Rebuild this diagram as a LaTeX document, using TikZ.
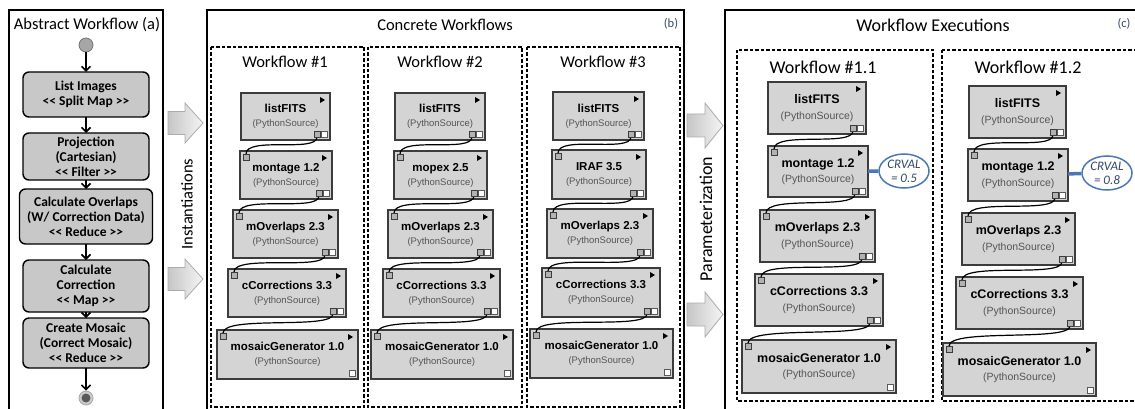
\documentclass[tikz,border=0pt]{standalone}
\usepackage{fontspec}
\setmainfont{Carlito}
\newfontfamily\arialf{Liberation Sans}
\usetikzlibrary{arrows.meta,shapes.geometric,calc}

\definecolor{boxgray}{HTML}{C8C8C8}
\definecolor{modgray}{HTML}{D4D4D4}
\definecolor{modline}{HTML}{3C3C3C}
\definecolor{subgray}{HTML}{555555}
\definecolor{crblue}{HTML}{4A78B5}
\definecolor{crtext}{HTML}{34496A}

\tikzset{
  panel/.style={draw=black,line width=1.5pt},
  wfframe/.style={draw=black,line width=1.3pt,dash pattern=on 3.5pt off 2pt},
  ptitle/.style={font=\fontsize{16.5}{18}\selectfont},
  pctitle/.style={font=\fontsize{18}{20}\selectfont},
  absbox/.style={draw=black,fill=boxgray,rounded corners=6pt,line width=1.4pt,align=center,
    inner sep=0pt,outer sep=0pt,font=\bfseries\fontsize{13.5}{15}\selectfont},
  flow/.style={-{Straight Barb[length=4.5pt,width=9pt,line width=1.6pt]},line width=1.8pt},
  module/.style={draw=modline,fill=modgray,line width=1.3pt,align=center,inner sep=0pt,
    outer sep=0pt,font=\arialf\fontsize{11.5}{14}\selectfont,execute at begin node=\def\subfs{9.5}},
  modc/.style={module,font=\arialf\fontsize{12.5}{15.5}\selectfont,execute at begin node=\def\subfs{10.5}},
  wire/.style={line width=1.2pt,black},
  inport/.style={draw=modline,fill=gray!60,line width=0.7pt},
  whiteport/.style={draw=gray!70!black,fill=white,line width=0.7pt},
  bigarrow/.style={draw=gray!65,line width=0.8pt,left color=gray!45,right color=gray!8},
  crval/.style={ellipse,draw=crblue,line width=1.5pt,fill=white,inner sep=0pt,minimum width=50pt,
    minimum height=34pt,align=center,text=crtext,font=\itshape\fontsize{13}{14}\selectfont},
  paramlink/.style={draw=crblue,line width=3.5pt},
  plabel/.style={font=\fontsize{12.5}{13}\selectfont,text=crtext},
}

% a module box: style, name, left, top, right, bottom, title
\newcommand{\wfmod}[7][module]{%
  \pgfmathsetmacro\modw{#5-#3}%
  \pgfmathsetmacro\modh{#6-#4}%
  \node[#1,minimum width=\modw pt,minimum height=\modh pt] (#2) at ({(#3+#5)/2},{(#4+#6)/2})
    {\textbf{#7}\\{\color{subgray}\fontsize{\subfs}{\subfs}\selectfont(PythonSource)}};
  \fill[black] ([shift={(-10pt,-4pt)}]#2.north east) -- ++(0pt,-6pt) -- ++(5pt,3pt) -- cycle;
  \draw[whiteport] ([shift={(-3pt,3pt)}]#2.south east) rectangle ++(-6pt,6pt);
}
\newcommand{\guil}[1]{{<}{<} #1 {>}{>}}

\begin{document}
\begin{tikzpicture}[x=1pt,y=-1pt]
\path[use as bounding box,clip] (0,0) rectangle (1135,409);

% panel (a)
\draw[panel] (9,10) rectangle (163,415);
\node[ptitle] (atitle) at (87,25) {Abstract Workflow (a)};
\node[circle,fill=gray!70,draw=gray!90!black,line width=0.8pt,minimum size=14pt,inner sep=0pt] (start) at (86,45) {};
\node[absbox,minimum width=126pt,minimum height=45pt] (b1) at (86,94.5) {List Images\\\guil{Split Map}};
\node[absbox,minimum width=126pt,minimum height=47pt] (b2) at (86,156.5) {Projection\\(Cartesian)\\\guil{Filter}};
\node[absbox,minimum width=133pt,minimum height=55pt] (b3) at (86,216.5) {Calculate Overlaps\\(W/ Correction Data)\\\guil{Reduce}};
\node[absbox,minimum width=126pt,minimum height=52pt] (b4) at (86,286) {Calculate\\Correction\\\guil{Map}};
\node[absbox,minimum width=126pt,minimum height=50pt] (b5) at (86,343) {Create Mosaic\\(Correct Mosaic)\\\guil{Reduce}};
\node[circle,fill=gray!40,draw=gray!70,line width=0.8pt,minimum size=14pt,inner sep=0pt] (fin) at (86,398) {};
\fill[gray!70!black] (fin) circle (4.5pt);
\draw[flow] (start) -- (b1);
\foreach \a/\b in {b1/b2,b2/b3,b3/b4,b4/b5,b5/fin}
  \draw[flow] (\a) -- (\b);

% instantiation arrows
\foreach \yc in {123,279}
  \draw[bigarrow] (168,{\yc-11.5}) -- (185,{\yc-11.5}) -- (185,{\yc-20}) -- (203,\yc)
    -- (185,{\yc+20}) -- (185,{\yc+11.5}) -- (168,{\yc+11.5}) -- cycle;
\node[rotate=90,font=\fontsize{16.5}{18}\selectfont] (inst) at (187,204) {Instantiations};

% panel (b)
\draw[panel] (207,10) rectangle (684,415);
\node[ptitle] (btitle) at (445,25) {Concrete Workflows};
\node[plabel] (blabel) at (671,24) {(b)};
\draw[wfframe] (211,47) rectangle (364,407);
\draw[wfframe] (368,47) rectangle (522,407);
\draw[wfframe] (527,47) rectangle (680,407);
\node[ptitle] (wf1) at (285,62) {Workflow \#1};
\node[ptitle] (wf2) at (440,62) {Workflow \#2};
\node[ptitle] (wf3) at (603,62) {Workflow \#3};

\wfmod{l1}{241}{93}{330}{140}{listFITS}
\wfmod{m1}{240}{151}{332}{199}{montage 1.2}
\wfmod{o1}{233}{210}{338}{258}{mOverlaps 2.3}
\wfmod{c1}{228}{269}{346}{317}{cCorrections 3.3}
\wfmod{g1}{217}{330}{358}{379}{mosaicGenerator 1.0}

\wfmod{l2}{395}{93}{485}{140}{listFITS}
\wfmod{m2}{394}{151}{487}{199}{mopex 2.5}
\wfmod{o2}{388}{210}{493}{258}{mOverlaps 2.3}
\wfmod{c2}{383}{269}{500}{317}{cCorrections 3.3}
\wfmod{g2}{371}{330}{513}{379}{mosaicGenerator 1.0}

\wfmod{l3}{553}{92}{644}{140}{listFITS}
\wfmod{m3}{552}{150}{646}{199}{IRAF 3.5}
\wfmod{o3}{547}{209}{653}{258}{mOverlaps 2.3}
\wfmod{c3}{542}{268}{660}{317}{cCorrections 3.3}
\wfmod{g3}{530}{329}{673}{378}{mosaicGenerator 1.0}

% parameterization arrows
\foreach \yc in {125.5,314.5}
  \draw[bigarrow] (687,{\yc-11.5}) -- (705,{\yc-11.5}) -- (705,{\yc-22.5}) -- (723,\yc)
    -- (705,{\yc+22.5}) -- (705,{\yc+11.5}) -- (687,{\yc+11.5}) -- cycle;
\node[rotate=90,font=\fontsize{18}{20}\selectfont] (param) at (706,219) {Parameterization};

% panel (c)
\draw[panel] (725,10) rectangle (1145,415);
\node[pctitle] (ctitle) at (933,25) {Workflow Executions};
\node[plabel,anchor=east] (clabel) at (1134,24) {(c)};
\draw[wfframe] (737,50) rectangle (933,401);
\draw[wfframe] (942,50) rectangle (1145,401);
\node[pctitle] (wf11) at (823,67) {Workflow \#1.1};
\node[pctitle] (wf12) at (1028,67) {Workflow \#1.2};

\wfmod[modc]{l4}{768}{82}{866}{134}{listFITS}
\wfmod[modc]{m4}{768}{146}{868}{197}{montage 1.2}
\wfmod[modc]{o4}{760}{210}{875}{262}{mOverlaps 2.3}
\wfmod[modc]{c4}{755}{274}{883}{326}{cCorrections 3.3}
\wfmod[modc]{g4}{742}{340}{896}{393}{mosaicGenerator 1.0}

\wfmod[modc]{l5}{969}{86}{1066}{138}{listFITS}
\wfmod[modc]{m5}{968}{149}{1068}{201}{montage 1.2}
\wfmod[modc]{o5}{962}{213}{1075}{265}{mOverlaps 2.3}
\wfmod[modc]{c5}{956}{277}{1083}{329}{cCorrections 3.3}
\wfmod[modc]{g5}{943}{343}{1096}{396}{mosaicGenerator 1.0}

% wires and ports
\foreach \k in {1,...,5}{
  \foreach \a/\b in {l/m,m/o,o/c,c/g}{
    \coordinate (\a\k-out) at ([shift={(-13pt,3pt)}]\a\k.south east);
    \coordinate (\b\k-in) at ([shift={(6pt,-3pt)}]\b\k.north west);
    \draw[wire] (\a\k-out) .. controls +(0pt,-16pt) and +(0pt,18pt) .. (\b\k-in);
    \draw[inport] ([shift={(-10pt,3pt)}]\a\k.south east) rectangle ++(-6pt,6pt);
    \draw[inport] ([shift={(3pt,-3pt)}]\b\k.north west) rectangle ++(6pt,-6pt);
  }
}

% parameter values
\node[crval] (crA) at (904,171) {CRVAL\\= 0.5};
\node[crval] (crB) at (1107,173) {CRVAL\\= 0.8};
\draw[paramlink] (m4) -- (crA);
\draw[paramlink] (m5) -- (crB);
\end{tikzpicture}
\end{document}
